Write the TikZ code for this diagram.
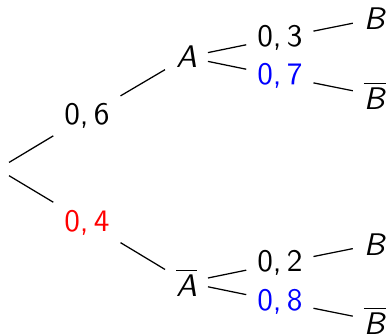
\documentclass[tikz,border=0pt]{standalone}
\usepackage{tikz}
\usetikzlibrary{positioning}

\begin{document}
\begin{tikzpicture}[node distance=1.05cm, auto, font=\sffamily,
  event/.style={inner sep=0.3333em},
  prob/.style={inner sep=0.3333em},
  line/.style={draw, line width=0.4pt}]

  \useasboundingbox (0.0225,1.901) rectangle (4.375,-1.856);

  \node [event] (root) {};

  % first level
  \node [prob, right of=root, node distance=1cm, yshift=0.6cm] (p6) {0,\,6};
  \node [prob, right of=root, node distance=1cm, yshift=-0.6cm, text=red] (p4) {0,\,4};
  \node [event, right of=p6, node distance=1.12cm, yshift=0.66cm] (A) {\textit{A}};
  \node [event, right of=p4, node distance=1.12cm, yshift=-0.675cm] (Abar) {$\overline{\mbox{\textit{A}}}$};

  % second level
  \node [prob, right of=A, yshift=0.215cm] (p3) {0,\,3};
  \node [prob, right of=A, yshift=-0.215cm, text=blue] (p7) {0,\,7};
  \node [prob, right of=Abar, yshift=0.215cm] (p2) {0,\,2};
  \node [prob, right of=Abar, yshift=-0.215cm, text=blue] (p8) {0,\,8};

  \node [event, right of=p3, node distance=1.07cm, yshift=0.215cm] (B1) {\textit{B}};
  \node [event, right of=p7, node distance=1.07cm, yshift=-0.215cm] (Bbar1) {$\overline{\mbox{\textit{B}}}$};
  \node [event, right of=p2, node distance=1.07cm, yshift=0.215cm] (B2) {\textit{B}};
  \node [event, right of=p8, node distance=1.07cm, yshift=-0.215cm] (Bbar2) {$\overline{\mbox{\textit{B}}}$};

  \path [line] (root) -- (p6);
  \path [line] (p6) -- (A);
  \path [line] (root) -- (p4);
  \path [line] (p4) -- (Abar);
  \path [line] (A) -- (p3);
  \path [line] (p3) -- (B1);
  \path [line] (A) -- (p7);
  \path [line] (p7) -- (Bbar1);
  \path [line] (Abar) -- (p2);
  \path [line] (p2) -- (B2);
  \path [line] (Abar) -- (p8);
  \path [line] (p8) -- (Bbar2);
\end{tikzpicture}
\end{document}
